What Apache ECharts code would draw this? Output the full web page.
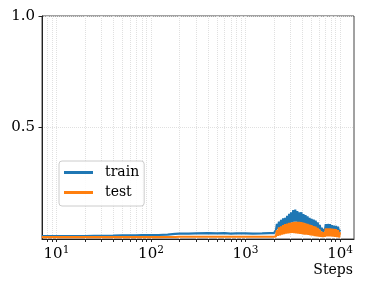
<!DOCTYPE html>
<html><head><meta charset="utf-8">
<script src="https://cdn.jsdelivr.net/npm/echarts@6/dist/echarts.min.js"></script>
<style>html,body{margin:0;padding:0;background:#fff}#c{width:366px;height:292px}</style>
</head><body><div id="c"></div>
<script>
const steps = [7, 8, 9, 10, 12, 15, 20, 25, 30, 40, 50, 60, 70, 80, 100, 120, 150, 180, 200, 250, 300, 400, 500, 600, 700, 800, 1000, 1200, 1500, 1800,
  2000, 2050, 2100, 2150, 2200, 2260, 2320, 2380, 2440, 2500, 2560, 2620, 2690, 2760, 2830, 2900, 2970, 3040, 3120, 3200, 3280, 3360, 3440, 3530, 3620, 3710, 3800, 3900, 4000, 4100, 4200, 4310, 4420, 4530, 4640, 4760, 4880, 5000, 5130, 5260, 5390, 5520, 5660, 5800, 5950, 6100, 6250, 6410, 6570, 6730, 6900, 7070, 7250, 7430, 7620, 7810, 8000, 8200, 8410, 8620, 8840, 9060, 9290, 9520, 9760, 10000];
const trainValues = [0.013, 0.013, 0.013, 0.013, 0.013, 0.013, 0.013, 0.014, 0.014, 0.015, 0.016, 0.016, 0.016, 0.017, 0.017, 0.018, 0.020, 0.023, 0.024, 0.024, 0.025, 0.026, 0.025, 0.026, 0.024, 0.025, 0.025, 0.024, 0.025, 0.026,
  0.026, 0.029, 0.040, 0.068, 0.045, 0.078, 0.050, 0.086, 0.055, 0.092, 0.058, 0.095, 0.062, 0.104, 0.066, 0.113, 0.070, 0.120, 0.075, 0.130, 0.078, 0.132, 0.078, 0.125, 0.076, 0.120, 0.075, 0.120, 0.072, 0.112, 0.070, 0.107, 0.068, 0.102, 0.064, 0.095, 0.060, 0.090, 0.058, 0.087, 0.055, 0.082, 0.050, 0.074, 0.045, 0.063, 0.038, 0.050, 0.030, 0.045, 0.035, 0.066, 0.040, 0.067, 0.040, 0.066, 0.038, 0.062, 0.038, 0.060, 0.036, 0.058, 0.034, 0.055, 0.030, 0.042];
const testValues = [0.008, 0.008, 0.008, 0.008, 0.008, 0.008, 0.008, 0.008, 0.008, 0.008, 0.008, 0.008, 0.008, 0.008, 0.008, 0.008, 0.009, 0.009, 0.010, 0.010, 0.010, 0.010, 0.010, 0.010, 0.010, 0.010, 0.010, 0.010, 0.010, 0.010,
  0.010, 0.011, 0.012, 0.040, 0.014, 0.052, 0.016, 0.057, 0.020, 0.062, 0.022, 0.067, 0.024, 0.069, 0.025, 0.072, 0.026, 0.074, 0.027, 0.076, 0.026, 0.077, 0.025, 0.077, 0.024, 0.077, 0.023, 0.076, 0.022, 0.074, 0.020, 0.070, 0.019, 0.068, 0.018, 0.065, 0.016, 0.062, 0.015, 0.058, 0.013, 0.055, 0.012, 0.050, 0.011, 0.042, 0.010, 0.033, 0.009, 0.030, 0.010, 0.048, 0.012, 0.048, 0.012, 0.048, 0.012, 0.047, 0.011, 0.045, 0.010, 0.044, 0.009, 0.040, 0.007, 0.030];
const xMajorTicks = [10, 100, 1000, 10000];
const xAllTicks = [8, 9, 10, 20, 30, 40, 50, 60, 70, 80, 90, 100, 200, 300, 400, 500, 600, 700, 800, 900, 1000, 2000, 3000, 4000, 5000, 6000, 7000, 8000, 9000, 10000];
const yTicks = [0.5, 1.0];
const seriesNames = ['train', 'test'];
const colors = ['#1f77b4', '#ff7f0e'];

const FONT = 'DejaVu Serif';
const chart = echarts.init(document.getElementById('c'), null, {renderer: 'canvas'});
const pairs = vals => steps.map((s, i) => [s, vals[i]]);
chart.setOption({
  animation: false,
  grid: {left: 42, right: 12, top: 16, bottom: 53, show: true, borderColor: '#444', borderWidth: 1, outerBoundsMode: 'none'},
  legend: {
    orient: 'vertical', left: 59, top: 161,
    data: seriesNames.map(n => ({name: n, icon: 'rect'})),
    itemWidth: 29, itemHeight: 3, itemGap: 5,
    padding: [4, 5, 6, 5],
    backgroundColor: 'rgba(255,255,255,0.85)', borderColor: '#ccc', borderWidth: 1, borderRadius: 3,
    textStyle: {fontFamily: FONT, fontSize: 14, color: '#000', lineHeight: 15, padding: [0, 0, 0, 7]}
  },
  xAxis: {
    type: 'log', logBase: 10, min: 7.03, max: 14060,
    axisLine: {show: true, lineStyle: {color: '#222', width: 1}},
    axisTick: {show: true, customValues: xAllTicks, length: 3, lineStyle: {color: '#222'}},
    splitLine: {show: true, lineStyle: {color: '#e0e0e0', width: 1, type: 'dotted'}},
    axisLabel: {
      customValues: xMajorTicks, margin: 6,
      formatter: v => '{b|10}{s|' + Math.round(Math.log10(v)) + '}',
      rich: {
        b: {fontFamily: FONT, fontSize: 15, color: '#000'},
        s: {fontFamily: FONT, fontSize: 10.5, color: '#000', padding: [0, 0, 7, 0]}
      }
    }
  },
  yAxis: {
    type: 'value', min: 0, max: 1,
    axisLine: {show: true, lineStyle: {color: '#222', width: 1}},
    axisTick: {show: true, customValues: yTicks, length: 3.5, lineStyle: {color: '#222'}},
    splitLine: {show: true, lineStyle: {color: '#e0e0e0', width: 1, type: 'dotted'}},
    axisLabel: {customValues: yTicks, margin: 7, fontFamily: FONT, fontSize: 15, color: '#000', formatter: v => v.toFixed(1)}
  },
  graphic: [{type: 'text', right: 13, top: 263, style: {text: 'Steps', fontFamily: FONT, fontSize: 14, fill: '#000'}}],
  series: [
    {name: seriesNames[0], type: 'line', data: pairs(trainValues), symbol: 'none', showSymbol: false, lineStyle: {color: colors[0], width: 2.2}, itemStyle: {color: colors[0]}},
    {name: seriesNames[1], type: 'line', data: pairs(testValues), symbol: 'none', showSymbol: false, lineStyle: {color: colors[1], width: 2.2}, itemStyle: {color: colors[1]}}
  ]
});
</script></body></html>
